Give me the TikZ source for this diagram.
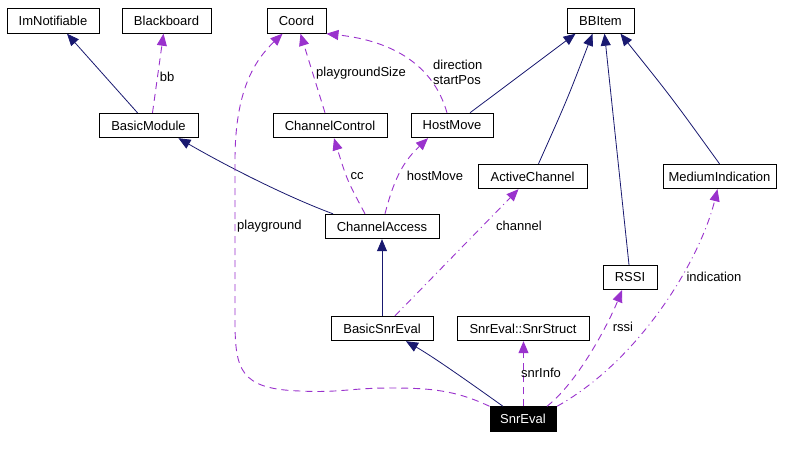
\documentclass[tikz,border=0pt]{standalone}
\usepackage{fontspec}
\setmainfont{Liberation Sans}
\usetikzlibrary{arrows.meta}
\definecolor{navyc}{RGB}{25,25,112}
\definecolor{purp}{RGB}{154,50,205}
\begin{document}
\begin{tikzpicture}[x=1pt,y=-1pt,
  box/.style={draw, line width=0.9pt, inner sep=0pt, font=\fontsize{13}{15}\selectfont, minimum height=24.5pt},
  inh/.style={navyc, line width=0.8pt, -{Triangle[length=12pt,width=10pt]}},
  use/.style={purp, line width=0.9pt, dash pattern=on 7pt off 5pt, -{Triangle[length=12pt,width=10pt]}},
  usedd/.style={purp, line width=0.9pt, dash pattern=on 7pt off 4pt on 1pt off 4pt, -{Triangle[length=12pt,width=10pt]}},
  lbl/.style={font=\fontsize{13}{15}\selectfont, inner sep=0pt, text=black}]
\useasboundingbox (0,0) rectangle (796,451);
\fill[white] (0,0) rectangle (796,451);
% nodes
\node[box, minimum width=92pt]  (imn)  at (53,21)   {ImNotifiable};
\node[box, minimum width=89pt]  (bb)   at (166.5,21) {Blackboard};
\node[box, minimum width=59pt]  (coord) at (296.5,21) {Coord};
\node[box, minimum width=67pt]  (bbi)  at (600.5,21) {BBItem};
\node[box, minimum width=99pt]  (bm)   at (148.5,125.5) {BasicModule};
\node[box, minimum width=114pt] (chc)  at (330,125.5) {ChannelControl};
\node[box, minimum width=82pt]  (hm)   at (452,125.5) {HostMove};
\node[box, minimum width=109pt] (ac)   at (532.5,176.5) {ActiveChannel};
\node[box, minimum width=113pt] (mi)   at (719.5,176.5) {MediumIndication};
\node[box, minimum width=114pt] (ca)   at (382,226.5) {ChannelAccess};
\node[box, minimum width=54pt]  (rssi) at (630,277.5) {RSSI};
\node[box, minimum width=102pt] (bse)  at (382,328.5) {BasicSnrEval};
\node[box, minimum width=132pt] (ss)   at (523,328.5) {SnrEval::SnrStruct};
\node[box, minimum width=66pt, fill=black, text=white] (se) at (523,419) {SnrEval};
% inheritance
\draw[inh] ([xshift=-11pt]bm.north) -- ([xshift=14pt]imn.south);
\draw[inh] ([xshift=-49pt]ca.north) .. controls (290,198) and (230,168) .. ([xshift=30pt]bm.south);
\draw[inh] ([xshift=18pt]hm.north) -- ([xshift=-25pt]bbi.south);
\draw[inh] ([xshift=6pt]ac.north) .. controls (567,100) .. ([xshift=-8pt]bbi.south);
\draw[inh] ([xshift=-1pt]rssi.north) -- ([xshift=4pt]bbi.south);
\draw[inh] ([xshift=0pt]mi.north) .. controls (672,98) .. ([xshift=20pt]bbi.south);
\draw[inh] (bse.north) -- (ca.south);
\draw[inh] ([xshift=-20pt]se.north) .. controls (455,372) and (430,355) .. ([xshift=24pt]bse.south);
% usage
\draw[use] ([xshift=4pt]bm.north) -- node[lbl, pos=0.45, right=2pt] {bb} ([xshift=-3pt]bb.south);
\draw[use] ([xshift=-5pt]chc.north) -- ([xshift=4pt]coord.south);
\node[lbl] (lps) at (361,73) {playgroundSize};
\draw[use] ([xshift=-5pt]hm.north) .. controls (432,60) and (385,40) .. (coord.south east);
\node[lbl, align=left, anchor=west] (lds) at (433,72.5) {direction\\startPos};
\draw[use] ([xshift=-17pt]ca.north) .. controls (347,180) .. ([xshift=4pt]chc.south);
\node[lbl] (lcc) at (357,176) {cc};
\draw[use] ([xshift=3pt]ca.north) .. controls (395,175) and (405,160) .. ([xshift=-24pt]hm.south);
\node[lbl] (lhm) at (435,176) {hostMove};
\draw[usedd] ([xshift=13pt]bse.north) -- ([xshift=-14pt]ac.south);
\node[lbl] (lch) at (519,226) {channel};
\draw[use, line width=1pt] ([xshift=0.5pt]se.north) -- ([xshift=0.5pt]ss.south);
\node[lbl] (lsi) at (541,373) {snrInfo};
\draw[use] ([xshift=24pt]se.north) .. controls (580,380) and (610,320) .. ([xshift=-8pt]rssi.south);
\node[lbl] (lrs) at (623,327) {rssi};
\draw[usedd] ([xshift=34pt]se.north) .. controls (640,360) and (700,260) .. ([xshift=-2pt]mi.south);
\node[lbl] (lin) at (714,277) {indication};
\draw[use] (se.north west) .. controls (455,390) and (430,388) .. (390,388)
   .. controls (350,388) and (340,393) .. (300,391)
   .. controls (240,389) and (235,370) .. (235,320) -- (235,160)
   .. controls (235,90) and (255,60) .. ([xshift=-14pt]coord.south);
\node[lbl, anchor=west] (lpg) at (237,226) {playground};
\end{tikzpicture}
\end{document}
